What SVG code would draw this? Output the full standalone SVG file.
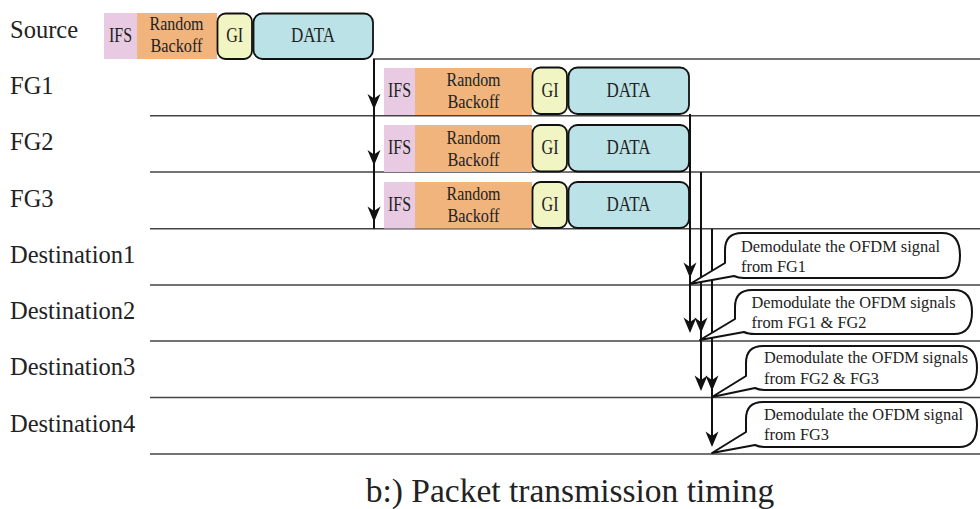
<svg xmlns="http://www.w3.org/2000/svg" xmlns:xlink="http://www.w3.org/1999/xlink" width="980" height="509" viewBox="0 0 980 509">
<defs>
<style>
text{font-family:"Liberation Serif","Times New Roman",serif;fill:#222}
.lbl{font-size:24.5px}
.cap{font-size:33.5px}
.pk{font-size:20px;text-anchor:middle}
.rb{font-size:18px;text-anchor:middle}
.bt{font-size:17px}
.ifs{fill:#e8cbe2}
.bo{fill:#f1b47c}
.gi{fill:#f1f4c3;stroke:#111;stroke-width:1.8}
.da{fill:#bbe2e7;stroke:#111;stroke-width:1.8}
.hl{stroke:#444;stroke-width:1.6;fill:none}
.vl{stroke:#111;stroke-width:2;fill:none}
.bub{fill:#fff;stroke:#111;stroke-width:2;stroke-linejoin:round}
</style>
<path id="ah" d="M0,0 L-6.5,-15.5 L0,-11 L6.5,-15.5 Z" fill="#111"/>
</defs>

<g id="labels">
<text class="lbl" x="10" y="37.5">Source</text>
<text class="lbl" x="10" y="94">FG1</text>
<text class="lbl" x="10" y="150">FG2</text>
<text class="lbl" x="10" y="206.5">FG3</text>
<text class="lbl" x="10" y="262.7">Destination1</text>
<text class="lbl" x="10" y="319">Destination2</text>
<text class="lbl" x="10" y="375">Destination3</text>
<text class="lbl" x="10" y="431.5">Destination4</text>
</g>

<g id="timelines">
<line class="hl" x1="373" y1="59" x2="980" y2="59"/>
<line class="hl" x1="150" y1="115.7" x2="980" y2="115.7"/>
<line class="hl" x1="150" y1="172" x2="980" y2="172"/>
<line class="hl" x1="150" y1="228.7" x2="980" y2="228.7"/>
<line class="hl" x1="150" y1="285" x2="980" y2="285"/>
<line class="hl" x1="150" y1="341" x2="980" y2="341"/>
<line class="hl" x1="150" y1="397.5" x2="980" y2="397.5"/>
<line class="hl" x1="150" y1="454" x2="980" y2="454"/>
</g>

<g id="source-packet">
<rect class="ifs" x="104" y="13" width="33" height="46"/>
<rect class="bo" x="137" y="13" width="80" height="46"/>
<rect class="gi" x="217.5" y="13.5" width="34.5" height="45.5" rx="8"/>
<rect class="da" x="253.5" y="13.5" width="119.5" height="45.5" rx="9"/>
<text class="pk" x="120.5" y="42.3" textLength="23" lengthAdjust="spacingAndGlyphs">IFS</text>
<text class="rb" x="176.5" y="30" textLength="54" lengthAdjust="spacingAndGlyphs">Random</text>
<text class="rb" x="176.5" y="52" textLength="52" lengthAdjust="spacingAndGlyphs">Backoff</text>
<text class="pk" x="234.7" y="42.3" textLength="17" lengthAdjust="spacingAndGlyphs">GI</text>
<text class="pk" x="313" y="42" textLength="44" lengthAdjust="spacingAndGlyphs">DATA</text>
</g>

<g id="fg1-packet">
<rect class="ifs" x="384" y="68" width="31" height="47"/>
<rect class="bo" x="415" y="68" width="117" height="47"/>
<rect class="gi" x="532.5" y="67.5" width="34.5" height="46.5" rx="8"/>
<rect class="da" x="568.5" y="67.5" width="120.5" height="46.5" rx="9"/>
<text class="pk" x="399.5" y="96.7" textLength="23" lengthAdjust="spacingAndGlyphs">IFS</text>
<text class="rb" x="473.5" y="86" textLength="54" lengthAdjust="spacingAndGlyphs">Random</text>
<text class="rb" x="473.5" y="108.3" textLength="52" lengthAdjust="spacingAndGlyphs">Backoff</text>
<text class="pk" x="550" y="96.7" textLength="17" lengthAdjust="spacingAndGlyphs">GI</text>
<text class="pk" x="628.5" y="96.5" textLength="44" lengthAdjust="spacingAndGlyphs">DATA</text>
</g>

<g id="fg2-packet">
<rect class="ifs" x="384" y="125" width="31" height="47"/>
<rect class="bo" x="415" y="125" width="117" height="47"/>
<rect class="gi" x="532.5" y="125" width="34.5" height="46.5" rx="8"/>
<rect class="da" x="568.5" y="125" width="120.5" height="46.5" rx="9"/>
<text class="pk" x="399.5" y="154" textLength="23" lengthAdjust="spacingAndGlyphs">IFS</text>
<text class="rb" x="473.5" y="143.5" textLength="54" lengthAdjust="spacingAndGlyphs">Random</text>
<text class="rb" x="473.5" y="165.5" textLength="52" lengthAdjust="spacingAndGlyphs">Backoff</text>
<text class="pk" x="550" y="154" textLength="17" lengthAdjust="spacingAndGlyphs">GI</text>
<text class="pk" x="628.5" y="154" textLength="44" lengthAdjust="spacingAndGlyphs">DATA</text>
</g>

<g id="fg3-packet">
<rect class="ifs" x="384" y="182" width="31" height="46.5"/>
<rect class="bo" x="415" y="182" width="117" height="46.5"/>
<rect class="gi" x="532.5" y="182" width="34.5" height="46" rx="8"/>
<rect class="da" x="568.5" y="182" width="120.5" height="46" rx="9"/>
<text class="pk" x="399.5" y="210.5" textLength="23" lengthAdjust="spacingAndGlyphs">IFS</text>
<text class="rb" x="473.5" y="200" textLength="54" lengthAdjust="spacingAndGlyphs">Random</text>
<text class="rb" x="473.5" y="222" textLength="52" lengthAdjust="spacingAndGlyphs">Backoff</text>
<text class="pk" x="550" y="210.5" textLength="17" lengthAdjust="spacingAndGlyphs">GI</text>
<text class="pk" x="628.5" y="210.5" textLength="44" lengthAdjust="spacingAndGlyphs">DATA</text>
</g>

<g id="connectors">
<line class="vl" x1="374" y1="59" x2="374" y2="228.7"/>
<use xlink:href="#ah" x="374" y="109.5"/>
<use xlink:href="#ah" x="374" y="165.5"/>
<use xlink:href="#ah" x="374" y="222"/>
<line class="vl" x1="690" y1="114" x2="690" y2="331"/>
<use xlink:href="#ah" x="690" y="278"/>
<use xlink:href="#ah" x="690" y="333"/>
<line class="vl" x1="701" y1="172" x2="701" y2="389"/>
<use xlink:href="#ah" x="701" y="333"/>
<use xlink:href="#ah" x="701" y="391"/>
<line class="vl" x1="712" y1="228.7" x2="712" y2="445"/>
<use xlink:href="#ah" x="712" y="391"/>
<use xlink:href="#ah" x="712" y="447"/>
</g>

<g id="callout1">
<path class="bub" d="M690,284 L725,263 L725,250 Q725,233 742,233 L942,233 Q960,233 960,255.5 Q960,278 942,278 L744,278 Q738,278 734,276 Z"/>
<text class="bt" x="741" y="251.5" textLength="199" lengthAdjust="spacingAndGlyphs">Demodulate the OFDM signal</text>
<text class="bt" x="741" y="272" textLength="65" lengthAdjust="spacingAndGlyphs">from FG1</text>
</g>

<g id="callout2">
<path class="bub" d="M700,340 L735,319 L735,307 Q735,290 752,290 L954,290 Q972,290 972,312 Q972,334 954,334 L755,334 Q748,334 744,332 Z"/>
<text class="bt" x="751.5" y="307.5" textLength="204" lengthAdjust="spacingAndGlyphs">Demodulate the OFDM signals</text>
<text class="bt" x="751.5" y="328" textLength="115" lengthAdjust="spacingAndGlyphs">from FG1 &amp; FG2</text>
</g>

<g id="callout3">
<path class="bub" d="M712,397 L746,376 L746,363 Q746,346 763,346 L959,346 Q977,346 977,368 Q977,390 959,390 L766,390 Q759,390 755,388 Z"/>
<text class="bt" x="764" y="363" textLength="204" lengthAdjust="spacingAndGlyphs">Demodulate the OFDM signals</text>
<text class="bt" x="764" y="383.5" textLength="115" lengthAdjust="spacingAndGlyphs">from FG2 &amp; FG3</text>
</g>

<g id="callout4">
<path class="bub" d="M712,453 L746,432 L746,419 Q746,402 763,402 L959,402 Q977,402 977,424.5 Q977,447 959,447 L766,447 Q759,447 755,445 Z"/>
<text class="bt" x="764" y="419.5" textLength="199" lengthAdjust="spacingAndGlyphs">Demodulate the OFDM signal</text>
<text class="bt" x="764" y="440" textLength="65" lengthAdjust="spacingAndGlyphs">from FG3</text>
</g>

<text class="cap" x="570" y="502" text-anchor="middle">b:) Packet transmission timing</text>
</svg>
